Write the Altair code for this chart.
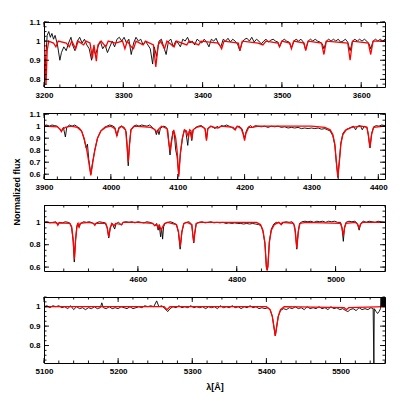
import altair as alt
import pandas as pd

# ---------------- Panel 1 (3200-3630 A) ----------------
p1_obs_lam = [3200, 3202, 3204, 3206, 3208, 3210, 3212, 3214, 3217, 3220, 3222, 3225, 3228, 3231, 3234, 3236,
              3239, 3242, 3245, 3248, 3251, 3254, 3257, 3260, 3262, 3265, 3268, 3271, 3274, 3277, 3280, 3283,
              3286, 3289, 3292, 3295, 3298, 3301, 3304, 3307, 3310, 3313, 3316, 3319, 3322, 3325, 3328, 3331,
              3334, 3337, 3339, 3342, 3345, 3348, 3351, 3354, 3357, 3360, 3363, 3366, 3369, 3372, 3375, 3378,
              3381, 3384, 3387, 3390, 3393, 3396, 3399, 3402, 3405, 3408, 3411, 3414, 3417, 3420, 3423, 3426,
              3429, 3432, 3435, 3438, 3441, 3444, 3447, 3450, 3453, 3456, 3459, 3462, 3465, 3468, 3471, 3474,
              3477, 3480, 3483, 3486, 3489, 3492, 3495, 3497, 3500, 3503, 3506, 3509, 3512, 3515, 3518, 3521,
              3524, 3527, 3530, 3533, 3536, 3539, 3542, 3545, 3548, 3551, 3553, 3556, 3559, 3562, 3565, 3568,
              3571, 3574, 3577, 3580, 3583, 3586, 3589, 3592, 3595, 3598, 3601, 3604, 3607, 3610, 3612, 3615,
              3618, 3621, 3624, 3627, 3630]
p1_obs_flux = [0.75, 0.90, 1.03, 1.05, 1.02, 1.04, 1.01, 1.03, 0.98, 0.90, 0.94, 0.97, 0.95, 0.99, 1.02, 0.98,
               0.95, 1.00, 1.02, 0.99, 1.01, 0.98, 0.96, 0.90, 0.96, 0.93, 0.97, 1.00, 0.96, 0.98, 0.94, 0.97,
               1.00, 0.97, 1.01, 1.02, 1.00, 1.02, 0.99, 1.01, 0.93, 0.99, 1.02, 1.00, 1.01, 0.98, 1.00, 0.98,
               0.96, 0.88, 0.97, 0.92, 1.00, 1.01, 0.97, 0.93, 1.00, 1.01, 0.97, 1.00, 0.99, 0.97, 1.01, 1.00,
               1.02, 0.99, 1.00, 0.98, 1.01, 1.00, 0.99, 1.01, 0.995, 0.97, 1.01, 1.0, 1.015, 0.985, 0.97, 1.01,
               1.0, 1.015, 0.995, 1.01, 1.0, 0.985, 0.95, 0.995, 1.01, 1.015, 1.0, 1.02, 0.995, 1.01, 1.0, 0.985,
               1.0, 1.01, 0.995, 1.005, 1.01, 1.0, 0.995, 0.97, 1.0, 1.01, 1.0, 0.995, 0.965, 1.0, 1.01, 1.0,
               1.01, 0.995, 0.955, 1.0, 1.01, 1.0, 1.01, 1.0, 0.995, 0.985, 0.96, 1.0, 1.01, 1.0, 1.01, 1.0,
               1.01, 0.995, 1.0, 1.01, 0.995, 0.95, 1.0, 1.01, 1.0, 1.01, 1.0, 1.01, 1.0, 0.985, 0.96, 1.0,
               1.01, 1.0, 1.01, 1.0, 1.01]
p1_mod_lam = [3200, 3201, 3202.5, 3204, 3206, 3212, 3215, 3218, 3228, 3232, 3235, 3240, 3243, 3250, 3253, 3258,
              3261, 3263, 3266, 3268, 3272, 3278, 3281, 3290, 3299, 3302, 3305, 3310, 3313, 3316, 3325, 3328,
              3338, 3341, 3344, 3347, 3352, 3355, 3364, 3367, 3380, 3383, 3395, 3398, 3420, 3424, 3427, 3445,
              3447, 3450, 3470, 3476, 3480, 3495, 3497, 3500, 3510, 3512, 3515, 3528, 3530, 3533, 3550, 3553,
              3556, 3583, 3586, 3589, 3609, 3612, 3615, 3630]
p1_mod_flux = [1.0, 0.90, 0.77, 0.95, 1.0, 0.99, 0.97, 1.0, 0.99, 0.97, 1.0, 0.96, 1.0, 0.98, 1.0, 0.99,
               0.91, 0.98, 0.895, 0.98, 1.0, 0.97, 1.0, 0.99, 1.0, 0.96, 1.0, 0.97, 0.96, 1.0, 0.98, 1.0,
               0.98, 0.865, 0.98, 1.0, 0.96, 1.0, 0.97, 1.0, 0.98, 1.0, 0.98, 1.0, 0.99, 0.96, 1.0, 0.99,
               0.95, 1.0, 0.99, 0.98, 1.0, 0.99, 0.97, 1.0, 0.99, 0.96, 1.0, 0.99, 0.95, 1.0, 0.99, 0.93,
               1.0, 0.99, 0.90, 1.0, 0.99, 0.93, 1.0, 1.0]

# ---------------- Panel 2 (3900-4410 A) ----------------
p2_obs_lam = [3900, 3904, 3908, 3912, 3916, 3920, 3923, 3926, 3929, 3932, 3934, 3938, 3942, 3946, 3950, 3954,
              3957, 3960, 3963, 3965, 3967, 3970, 3973, 3976, 3980, 3985, 3990, 3994, 3998, 4002, 4006, 4009,
              4012, 4016, 4020, 4023, 4024.5, 4026, 4027.5, 4030, 4034, 4038, 4042, 4046, 4050, 4054, 4058, 4062,
              4066, 4068, 4070, 4072, 4074, 4078, 4082, 4085, 4087, 4088.5, 4090, 4093, 4095, 4097, 4099, 4101.5,
              4104, 4107, 4110, 4112, 4115, 4117, 4119, 4121, 4123, 4127, 4131, 4135, 4139, 4141, 4143, 4145,
              4149, 4153, 4156, 4159, 4162, 4165, 4169, 4173, 4177, 4181, 4185, 4188, 4192, 4196, 4198, 4200,
              4202, 4205, 4209, 4212, 4216, 4220, 4225, 4230, 4235, 4240, 4245, 4250, 4255, 4260, 4265, 4270,
              4275, 4280, 4285, 4290, 4295, 4300, 4305, 4310, 4315, 4320, 4324, 4328, 4332, 4335, 4337, 4339.5,
              4342, 4344, 4347, 4351, 4355, 4359, 4363, 4366, 4369, 4373, 4376, 4379, 4383, 4385, 4387.5, 4390,
              4393, 4397, 4401, 4405, 4410]
p2_obs_flux = [1.005, 1.01, 1.0, 1.01, 1.005, 1.0, 0.98, 0.96, 0.99, 0.91, 0.99, 1.01, 1.0, 1.01, 0.995, 0.98,
               0.95, 0.89, 0.82, 0.85, 0.72, 0.60, 0.71, 0.80, 0.90, 0.96, 0.99, 1.0, 1.01, 1.005, 0.99, 0.92,
               0.99, 1.0, 0.99, 0.95, 0.82, 0.67, 0.83, 0.97, 1.0, 1.01, 1.0, 1.01, 1.005, 1.0, 1.01, 0.99,
               0.97, 0.93, 0.97, 0.93, 0.98, 1.0, 0.995, 0.97, 0.84, 0.76, 0.86, 0.96, 0.93, 0.80, 0.75, 0.60,
               0.77, 0.90, 0.97, 0.96, 0.84, 0.96, 0.95, 0.88, 0.97, 0.99, 1.0, 1.005, 0.99, 0.97, 0.89, 0.98,
               1.0, 0.99, 0.98, 1.0, 0.985, 1.005, 1.0, 1.01, 1.0, 0.99, 0.97, 0.995, 1.0, 0.98, 0.94, 0.90,
               0.95, 0.99, 1.005, 0.99, 1.005, 1.0, 0.995, 1.0, 0.99, 1.0, 0.995, 1.0, 0.99, 0.995, 0.985, 0.99,
               0.985, 0.99, 0.98, 0.985, 0.98, 0.985, 0.98, 0.985, 0.975, 0.98, 0.97, 0.96, 0.92, 0.84, 0.71, 0.58,
               0.73, 0.86, 0.94, 0.97, 0.98, 0.99, 1.0, 0.97, 1.0, 1.005, 0.97, 1.0, 0.99, 0.93, 0.82, 0.94,
               0.995, 1.005, 1.0, 1.01, 1.005]
p2_mod_lam = [3900, 3920, 3924, 3926, 3928, 3932, 3940, 3950, 3956, 3960, 3964, 3967, 3970, 3973, 3976, 3980,
              3985, 3992, 4000, 4006, 4009, 4012, 4016, 4022, 4024, 4026, 4028, 4030, 4035, 4060, 4066, 4069,
              4072, 4076, 4084, 4087, 4089, 4091, 4094, 4097, 4099, 4101.5, 4104, 4107, 4110, 4113, 4116, 4118,
              4120, 4121, 4123, 4128, 4135, 4141, 4143, 4145, 4150, 4155, 4160, 4165, 4183, 4186, 4189, 4195,
              4198, 4200, 4202, 4206, 4212, 4220, 4300, 4320, 4328, 4332, 4335, 4337, 4339.5, 4342, 4344, 4347,
              4352, 4360, 4375, 4383, 4385, 4387.5, 4390, 4393, 4410]
p2_mod_flux = [1.0, 0.995, 0.975, 0.955, 0.975, 0.99, 1.0, 0.99, 0.96, 0.90, 0.80, 0.70, 0.59, 0.70, 0.80, 0.90,
               0.96, 0.99, 1.0, 0.98, 0.92, 0.98, 1.0, 0.97, 0.85, 0.70, 0.85, 0.97, 1.0, 0.99, 0.97, 0.95,
               0.98, 1.0, 0.98, 0.85, 0.79, 0.88, 0.97, 0.90, 0.80, 0.58, 0.78, 0.90, 0.97, 0.96, 0.91, 0.97,
               0.96, 0.89, 0.97, 0.99, 1.0, 0.98, 0.88, 0.98, 1.0, 0.99, 0.985, 1.0, 0.99, 0.97, 1.0, 0.98,
               0.93, 0.88, 0.94, 0.99, 0.99, 1.0, 1.0, 0.99, 0.97, 0.93, 0.85, 0.72, 0.57, 0.72, 0.85, 0.93,
               0.97, 0.99, 1.0, 0.99, 0.93, 0.82, 0.93, 0.99, 1.0]

# ---------------- Panel 3 (4410-5100 A) ----------------
p3_obs_lam = [4410, 4416, 4422, 4428, 4434, 4438, 4441, 4447, 4453, 4459, 4463, 4466, 4469, 4471.3, 4473.5, 4476,
              4478, 4481, 4484, 4490, 4496, 4502, 4508, 4513, 4516, 4522, 4528, 4534, 4538, 4541, 4544, 4548,
              4553, 4556, 4561, 4567, 4570, 4576, 4582, 4588, 4594, 4600, 4606, 4612, 4618, 4624, 4630, 4634,
              4638, 4641, 4643, 4646, 4648, 4650, 4652, 4655, 4660, 4666, 4672, 4678, 4682, 4685.5, 4689, 4693,
              4698, 4704, 4709, 4711, 4713, 4715, 4718, 4724, 4730, 4736, 4742, 4748, 4754, 4760, 4766, 4772,
              4778, 4784, 4790, 4796, 4802, 4808, 4814, 4820, 4826, 4832, 4838, 4844, 4849, 4853, 4857, 4860,
              4861.5, 4863, 4866, 4870, 4875, 4880, 4886, 4891, 4894, 4900, 4906, 4912, 4917, 4919, 4921.5, 4924,
              4927, 4932, 4938, 4944, 4950, 4956, 4962, 4968, 4974, 4980, 4986, 4992, 4998, 5004, 5010, 5013,
              5015.7, 5018, 5021, 5027, 5033, 5039, 5044, 5047.7, 5051, 5056, 5062, 5068, 5074, 5080, 5086, 5092,
              5100]
p3_obs_flux = [1.0, 1.005, 0.995, 1.0, 1.005, 0.975, 1.0, 0.995, 1.005, 1.0, 0.99, 0.95, 0.83, 0.645, 0.82, 0.95,
               0.99, 0.955, 0.99, 1.005, 1.0, 1.005, 0.995, 0.975, 0.995, 1.005, 1.0, 0.995, 0.95, 0.86, 0.95, 0.99,
               0.94, 0.99, 1.0, 0.975, 1.0, 1.005, 1.0, 1.005, 0.995, 1.005, 1.0, 0.995, 1.005, 1.0, 0.99, 0.97,
               0.99, 0.93, 0.98, 0.87, 0.95, 0.85, 0.96, 0.99, 1.0, 1.005, 0.995, 0.98, 0.91, 0.76, 0.91, 0.99,
               1.0, 1.005, 0.98, 0.89, 0.815, 0.90, 0.99, 1.0, 1.005, 0.995, 1.0, 1.005, 0.995, 1.0, 0.995, 1.0,
               0.99, 0.995, 0.99, 0.995, 0.99, 0.99, 0.985, 0.99, 0.985, 0.99, 0.985, 0.98, 0.97, 0.92, 0.81, 0.60,
               0.575, 0.61, 0.83, 0.94, 0.985, 1.0, 0.995, 0.98, 1.0, 1.005, 1.0, 1.005, 0.97, 0.90, 0.76, 0.90,
               0.99, 1.005, 1.01, 1.005, 1.01, 1.0, 1.01, 1.005, 1.01, 1.0, 1.01, 1.005, 1.01, 1.0, 1.0, 0.95,
               0.83, 0.95, 1.0, 1.01, 1.005, 1.01, 0.99, 0.93, 0.99, 1.01, 1.0, 1.01, 1.005, 1.0, 1.01, 1.005,
               1.0]
p3_mod_lam = [4410, 4436, 4438, 4440, 4462, 4466, 4469, 4471.5, 4474, 4477, 4479, 4481, 4483, 4500, 4511, 4513,
              4515, 4535, 4538, 4541, 4544, 4547, 4552, 4555, 4567, 4570, 4600, 4630, 4634, 4638, 4641, 4644,
              4647, 4650, 4654, 4660, 4678, 4682, 4685.7, 4689, 4693, 4700, 4709, 4711, 4713, 4715, 4718, 4725,
              4840, 4848, 4853, 4857, 4860, 4861.5, 4863, 4866, 4870, 4876, 4885, 4890, 4892, 4915, 4918, 4921.5,
              4925, 4928, 4940, 5010, 5013, 5015.7, 5018, 5021, 5040, 5045, 5047.7, 5050, 5055, 5100]
p3_mod_flux = [1.0, 0.995, 0.975, 0.995, 0.99, 0.96, 0.85, 0.67, 0.85, 0.97, 0.99, 0.96, 0.99, 1.0, 0.99, 0.975,
               0.99, 0.99, 0.95, 0.87, 0.95, 0.99, 0.97, 0.99, 0.98, 1.0, 1.0, 0.99, 0.97, 0.98, 0.95, 0.97,
               0.93, 0.96, 0.99, 1.0, 0.98, 0.92, 0.78, 0.92, 0.99, 1.0, 0.98, 0.90, 0.82, 0.90, 0.99, 1.0,
               1.0, 0.98, 0.93, 0.82, 0.60, 0.575, 0.60, 0.82, 0.93, 0.98, 1.0, 0.98, 1.0, 0.99, 0.93, 0.77,
               0.93, 0.99, 1.0, 0.99, 0.95, 0.88, 0.95, 0.99, 1.0, 0.98, 0.95, 0.98, 1.0, 1.0]

# ---------------- Panel 4 (5100-5560 A) ----------------
p4_obs_lam = [5100, 5104, 5108, 5112, 5116, 5120, 5124, 5128, 5132, 5136, 5140, 5144, 5148, 5152, 5156, 5160,
              5164, 5168, 5172, 5176, 5178, 5180, 5184, 5188, 5192, 5196, 5200, 5204, 5208, 5212, 5216, 5220,
              5224, 5228, 5232, 5236, 5240, 5244, 5248, 5252, 5255, 5259, 5263, 5267, 5270, 5274, 5278, 5282,
              5286, 5290, 5294, 5298, 5302, 5306, 5310, 5314, 5318, 5322, 5326, 5330, 5334, 5338, 5342, 5346,
              5350, 5354, 5358, 5362, 5366, 5370, 5374, 5378, 5382, 5386, 5390, 5394, 5398, 5402, 5405, 5408,
              5410, 5412, 5414, 5416, 5419, 5423, 5427, 5431, 5435, 5439, 5443, 5447, 5451, 5455, 5459, 5463,
              5467, 5471, 5475, 5479, 5483, 5487, 5491, 5495, 5499, 5503, 5507, 5510, 5513, 5517, 5521, 5525,
              5529, 5533, 5537, 5541, 5544, 5545, 5545.5, 5548, 5550, 5552, 5554, 5555, 5555.5, 5556, 5556.5, 5557,
              5557.5, 5558, 5558.5, 5559, 5559.5, 5560]
p4_obs_flux = [1.0, 1.005, 0.995, 1.005, 1.0, 1.005, 0.995, 1.0, 0.99, 1.005, 0.985, 1.0, 0.99, 0.995, 0.985, 0.995,
               0.99, 1.0, 0.99, 0.995, 1.02, 0.995, 0.99, 1.0, 0.99, 0.995, 0.99, 1.0, 0.995, 0.99, 1.0, 0.99,
               0.995, 1.0, 0.995, 1.005, 1.0, 1.005, 1.0, 1.03, 1.0, 1.005, 0.99, 0.975, 0.99, 1.0, 0.995, 1.005,
               0.995, 1.0, 0.995, 1.005, 0.995, 1.0, 0.995, 1.0, 0.99, 1.0, 0.995, 1.0, 0.99, 1.005, 0.995, 1.0,
               0.995, 1.005, 0.995, 1.0, 0.99, 1.0, 0.995, 1.005, 0.995, 1.0, 0.99, 0.995, 0.99, 0.995, 0.985, 0.95,
               0.90, 0.85, 0.90, 0.95, 0.98, 0.99, 0.985, 0.995, 0.99, 1.0, 0.99, 0.995, 0.985, 1.0, 0.99, 0.995,
               0.99, 1.0, 0.99, 0.995, 0.985, 1.0, 0.99, 0.995, 0.985, 0.99, 0.98, 0.975, 0.985, 0.99, 0.98, 0.995,
               0.985, 0.99, 0.985, 0.995, 0.99, 0.70, 0.99, 0.975, 0.965, 0.975, 0.99, 1.2, 1.0, 1.2, 1.0, 1.2,
               1.0, 1.2, 1.0, 1.2, 1.0, 1.2]
p4_mod_lam = [5100, 5262, 5266, 5270, 5400, 5405, 5408, 5410, 5412, 5414, 5416, 5419, 5424, 5505, 5508, 5511, 5560]
p4_mod_flux = [1.0, 1.0, 0.985, 1.0, 1.0, 0.985, 0.95, 0.90, 0.85, 0.90, 0.95, 0.985, 1.0, 0.995, 0.985, 0.995, 1.0]

# ---------------- axis ticks ----------------
p1_xmaj = [3200, 3300, 3400, 3500, 3600]
p1_xmin = list(range(3200, 3631, 20))
p1_ymaj = [0.8, 0.9, 1.0, 1.1]
p1_ymin = [0.775, 0.8, 0.825, 0.85, 0.875, 0.9, 0.925, 0.95, 0.975, 1.0, 1.025, 1.05, 1.075, 1.1]

p2_xmaj = [3900, 4000, 4100, 4200, 4300, 4400]
p2_xmin = list(range(3900, 4411, 20))
p2_ymaj = [0.6, 0.7, 0.8, 0.9, 1.0, 1.1]
p2_ymin = [0.6, 0.65, 0.7, 0.75, 0.8, 0.85, 0.9, 0.95, 1.0, 1.05, 1.1]

p3_xmaj = [4600, 4800, 5000]
p3_xmin = list(range(4450, 5101, 50))
p3_ymaj = [0.6, 0.8, 1.0]
p3_ymin = [0.6, 0.65, 0.7, 0.75, 0.8, 0.85, 0.9, 0.95, 1.0, 1.05, 1.1, 1.15]

p4_xmaj = [5100, 5200, 5300, 5400, 5500]
p4_xmin = list(range(5100, 5561, 20))
p4_ymaj = [0.8, 0.9, 1.0]
p4_ymin = [0.725, 0.75, 0.775, 0.8, 0.825, 0.85, 0.875, 0.9, 0.925, 0.95, 0.975, 1.0, 1.025, 1.05]

W = 341
FONT = "Liberation Sans"
MAJ = 5
MIN = 2.5


def panel(obs_l, obs_f, mod_l, mod_f, xdom, ydom, xmaj, xmin, ymaj, ymin, h,
          xtitle=None, ylabel=False):
    obs = pd.DataFrame({"lam": obs_l, "flux": obs_f})
    mod = pd.DataFrame({"lam": mod_l, "flux": mod_f})
    xs = alt.Scale(domain=xdom, nice=False, zero=False)
    ys = alt.Scale(domain=ydom, nice=False, zero=False)

    xlab_kw = dict(orient="bottom", values=xmaj, ticks=False, domain=False, grid=False,
                   labelFont=FONT, labelFontSize=8, labelFontWeight="bold", labelColor="black",
                   labelFlush=False, labelOverlap=False, labelBound=False, labelPadding=4, format="d")
    if xtitle:
        xlab_kw.update(title=xtitle, titleFont=FONT, titleFontSize=9, titleFontWeight="bold",
                       titleColor="black", titlePadding=7)
    else:
        xlab_kw.update(title=None)
    xlab = alt.Axis(**xlab_kw)
    ylab = alt.Axis(orient="left", values=ymaj, ticks=False, domain=False, grid=False,
                    labelFont=FONT, labelFontSize=8, labelFontWeight="bold", labelColor="black",
                    labelFlush=False, labelOverlap=False, labelBound=False, labelPadding=4,
                    format="~g", title=None)
    X = lambda: alt.X("lam:Q", scale=xs, axis=xlab)
    Y = lambda: alt.Y("flux:Q", scale=ys, axis=ylab)

    l_obs = alt.Chart(obs).mark_line(color="black", strokeWidth=0.9, clip=True).encode(x=X(), y=Y())
    l_mod = alt.Chart(mod).mark_line(color="#ff0000", strokeWidth=1.3, clip=True).encode(x=X(), y=Y())

    layers = [l_obs, l_mod]
    # inward ticks on all four sides, positioned through the scales
    for vals, size in ((xmaj, MAJ), (xmin, MIN)):
        tdf = pd.DataFrame({"lam": vals})
        rule = alt.Chart(tdf).mark_rule(color="black", strokeWidth=0.9)
        layers.append(rule.encode(x=X(), y=alt.value(0), y2=alt.value(size)))
        layers.append(rule.encode(x=X(), y=alt.value(h), y2=alt.value(h - size)))
    for vals, size in ((ymaj, MAJ), (ymin, MIN)):
        tdf = pd.DataFrame({"flux": vals})
        rule = alt.Chart(tdf).mark_rule(color="black", strokeWidth=0.9)
        layers.append(rule.encode(y=Y(), x=alt.value(0), x2=alt.value(size)))
        layers.append(rule.encode(y=Y(), x=alt.value(W), x2=alt.value(W - size)))
    if ylabel:
        txt = alt.Chart(alt.Data(values=[{}])).mark_text(
            angle=270, font=FONT, fontSize=9, fontWeight="bold", color="black",
            align="center", baseline="middle").encode(
            x=alt.value(-27), y=alt.value(h + 13), text=alt.value("Normalized flux"))
        layers.append(txt)
    return alt.layer(*layers).properties(width=W, height=h)


c1 = panel(p1_obs_lam, p1_obs_flux, p1_mod_lam, p1_mod_flux, [3200, 3630], [0.76, 1.1],
           p1_xmaj, p1_xmin, p1_ymaj, p1_ymin, 65)
c2 = panel(p2_obs_lam, p2_obs_flux, p2_mod_lam, p2_mod_flux, [3900, 4410], [0.56, 1.11],
           p2_xmaj, p2_xmin, p2_ymaj, p2_ymin, 66, ylabel=True)
c3 = panel(p3_obs_lam, p3_obs_flux, p3_mod_lam, p3_mod_flux, [4410, 5100], [0.565, 1.155],
           p3_xmaj, p3_xmin, p3_ymaj, p3_ymin, 66)
c4 = panel(p4_obs_lam, p4_obs_flux, p4_mod_lam, p4_mod_flux, [5100, 5560], [0.71, 1.05],
           p4_xmaj, p4_xmin, p4_ymaj, p4_ymin, 66, xtitle="λ[Å]")

chart = alt.vconcat(c1, c2, c3, c4, spacing=26, bounds="flush").properties(
    padding={"left": 4, "top": 9, "right": 5, "bottom": 5},
    background="white",
).configure_view(stroke="black", strokeWidth=1)

chart.save("out.html", embed_options={"renderer": "svg", "actions": False})
